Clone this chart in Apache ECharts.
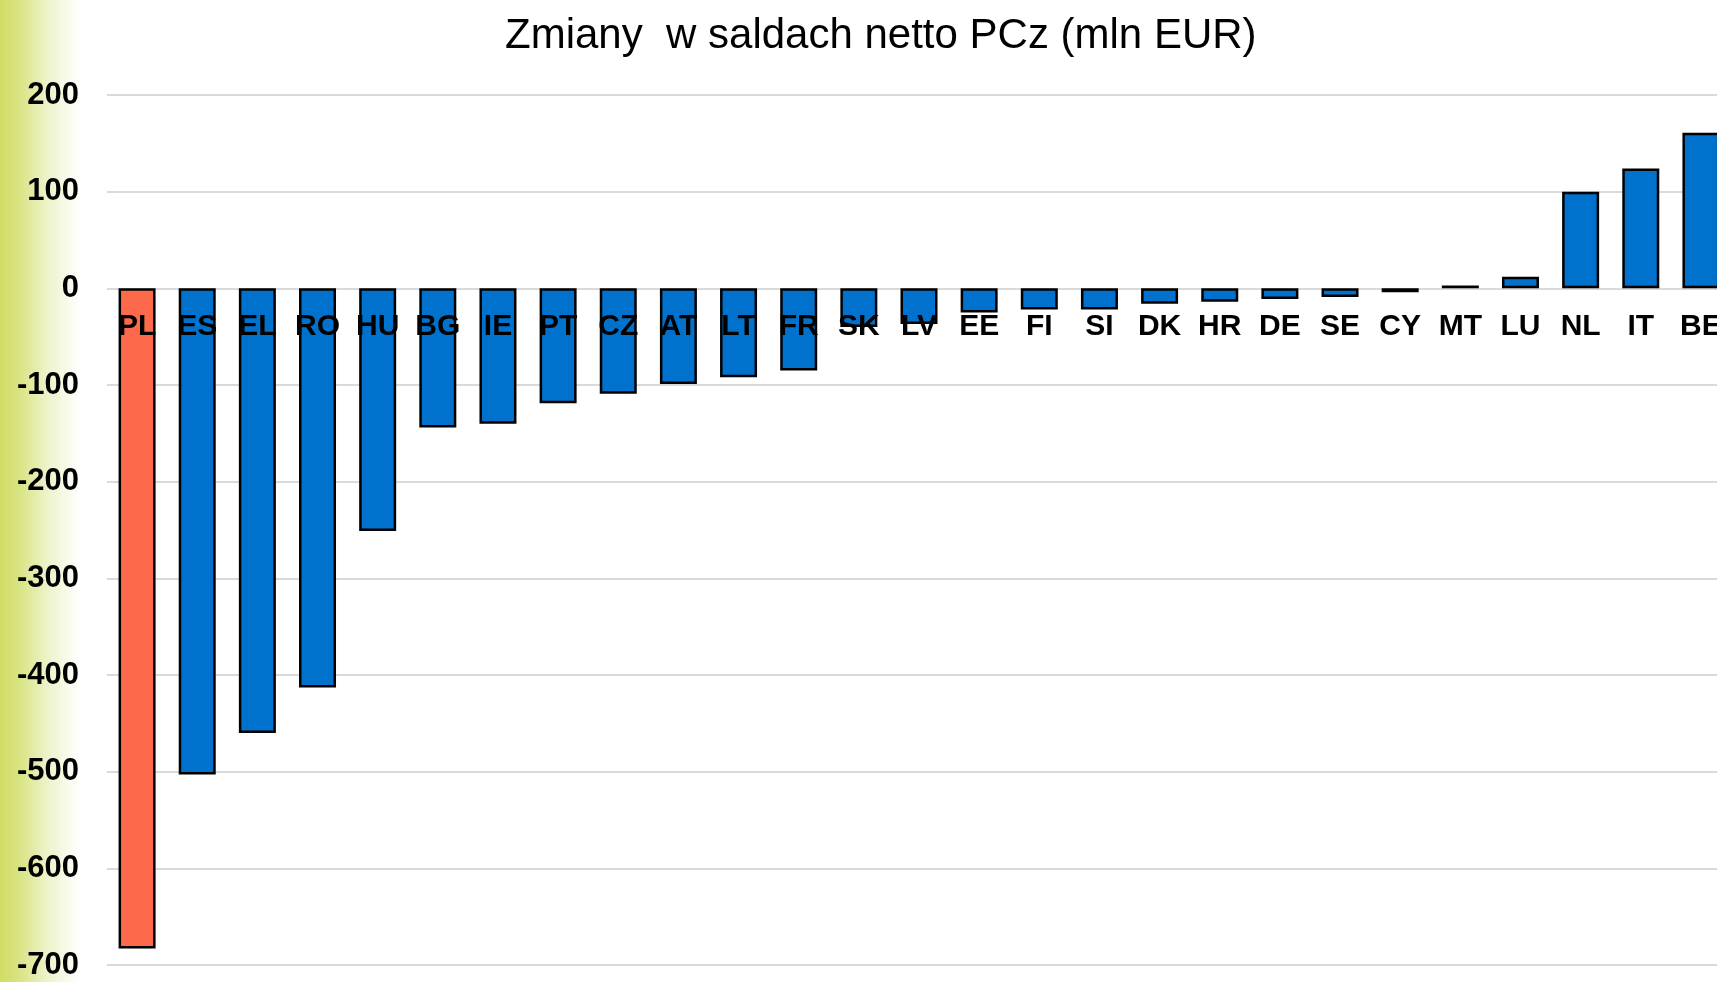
<!DOCTYPE html>
<html>
<head>
<meta charset="utf-8">
<script src="https://cdn.jsdelivr.net/npm/echarts@6/dist/echarts.min.js"></script>
<style>
  html, body { margin: 0; padding: 0; background: #ffffff; }
  #chart { width: 1717px; height: 982px; }
</style>
</head>
<body>
<div id="chart"></div>
<script>
const titleText = 'Zmiany  w saldach netto PCz (mln EUR)';
const categories = ['PL','ES','EL','RO','HU','BG','IE','PT','CZ','AT','LT','FR','SK','LV','EE','FI','SI','DK','HR','DE','SE','CY','MT','LU','NL','IT','BE'];
const values = [-683,-503,-460,-413,-251,-144,-140,-119,-109,-99,-92,-85,-40,-37,-25,-22,-22,-16,-14,-11,-9,-4,3,12,100,124,161];
const highlighted = ['PL'];
const yMin = -700;
const yMax = 200;
const yStep = 100;

const blue = '#0072CE';
const orange = '#FC6A4B';

const gridTop = 95;
const gridHeight = 870;
// place the category axis on the value-axis zero line
const zeroOffset = -gridHeight * (yMax / (yMax - yMin));

const chart = echarts.init(document.getElementById('chart'), null, { renderer: 'canvas' });
const seriesData = values.map((v, i) => ({
  value: v,
  itemStyle: { color: highlighted.includes(categories[i]) ? orange : blue }
}));

chart.setOption({
  animation: false,
  backgroundColor: '#ffffff',
  graphic: [{
    type: 'rect',
    z: -10,
    silent: true,
    shape: { x: 0, y: 0, width: 80, height: 982 },
    style: {
      fill: new echarts.graphic.LinearGradient(0, 0, 1, 0, [
        { offset: 0, color: '#d0dc64' },
        { offset: 0.25, color: '#dae485' },
        { offset: 0.6, color: '#eef3cc' },
        { offset: 1, color: '#ffffff' }
      ])
    }
  }],
  title: {
    text: titleText,
    left: 500,
    top: 10,
    textStyle: {
      fontFamily: 'Liberation Sans',
      fontSize: 42,
      fontWeight: 'normal',
      color: '#000000'
    }
  },
  grid: { left: 107, top: gridTop, width: 1624, height: gridHeight, containLabel: false, outerBoundsMode: 'none' },
  xAxis: {
    type: 'category',
    data: categories,
    position: 'top',
    offset: zeroOffset,
    z: 10,
    axisLine: { show: false, onZero: false },
    axisTick: { show: false },
    splitLine: { show: false },
    axisLabel: {
      inside: true,
      interval: 0,
      margin: 38,
      verticalAlign: 'middle',
      fontFamily: 'Liberation Sans',
      fontWeight: 'bold',
      fontSize: 30,
      color: '#000000'
    }
  },
  yAxis: {
    type: 'value',
    min: yMin,
    max: yMax,
    interval: yStep,
    axisLine: { show: false, onZero: false },
    axisTick: { show: false },
    splitLine: { show: true, lineStyle: { color: '#dadada', width: 2 } },
    axisLabel: {
      margin: 28,
      fontFamily: 'Liberation Sans',
      fontWeight: 'bold',
      fontSize: 31,
      color: '#000000'
    }
  },
  series: [{
    type: 'bar',
    data: seriesData,
    barWidth: 37,
    itemStyle: { borderColor: '#000000', borderWidth: 2.5 }
  }]
});
</script>
</body>
</html>
